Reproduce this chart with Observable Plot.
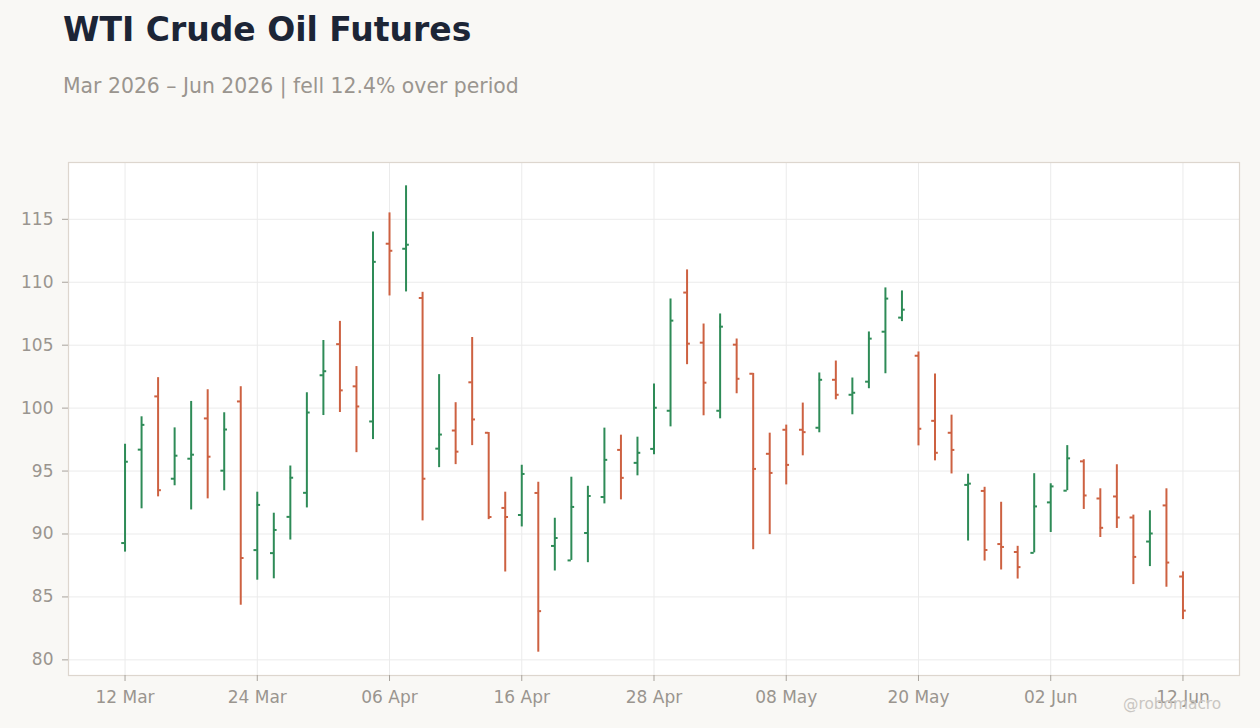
<!DOCTYPE html>
<html>
<head>
<meta charset="utf-8">
<script src="https://cdn.jsdelivr.net/npm/d3@7"></script>
<script src="https://cdn.jsdelivr.net/npm/@observablehq/plot@0.6"></script>
<style>
  html, body { margin: 0; padding: 0; background: #f9f8f5; width: 1260px; height: 728px; overflow: hidden; font-family: "DejaVu Sans", sans-serif; }
  #title { position: absolute; left: 63px; top: 13px; font-size: 33px; line-height: 33px; font-weight: bold; color: #1c2536; white-space: nowrap; }
  #subtitle { position: absolute; left: 63px; top: 76px; font-size: 20.4px; line-height: 20px; color: #9a958f; white-space: nowrap; }
  #chart { position: absolute; left: 0; top: 140px; }
  #credit { position: absolute; left: 1123px; top: 696px; font-size: 15.4px; line-height: 16px; color: #c9c6c2; white-space: nowrap; }
</style>
</head>
<body>
<div id="title">WTI Crude Oil Futures</div>
<div id="subtitle">Mar 2026 – Jun 2026 | fell 12.4% over period</div>
<div id="chart"></div>
<div id="credit">@robomacro</div>
<script>
// Trading dates (business days, Good Friday and Memorial Day closed)
const dates = [
  "2026-03-12","2026-03-13","2026-03-16","2026-03-17","2026-03-18","2026-03-19","2026-03-20","2026-03-23",
  "2026-03-24","2026-03-25","2026-03-26","2026-03-27","2026-03-30","2026-03-31","2026-04-01","2026-04-02",
  "2026-04-06","2026-04-07","2026-04-08","2026-04-09","2026-04-10","2026-04-13","2026-04-14","2026-04-15",
  "2026-04-16","2026-04-17","2026-04-20","2026-04-21","2026-04-22","2026-04-23","2026-04-24","2026-04-27",
  "2026-04-28","2026-04-29","2026-04-30","2026-05-01","2026-05-04","2026-05-05","2026-05-06","2026-05-07",
  "2026-05-08","2026-05-11","2026-05-12","2026-05-13","2026-05-14","2026-05-15","2026-05-18","2026-05-19",
  "2026-05-20","2026-05-21","2026-05-22","2026-05-26","2026-05-27","2026-05-28","2026-05-29","2026-06-01",
  "2026-06-02","2026-06-03","2026-06-04","2026-06-05","2026-06-08","2026-06-09","2026-06-10","2026-06-11",
  "2026-06-12"
];
const open = [
  89.28, 96.70, 100.93, 94.39, 95.98, 99.18, 95.03, 100.53,
  88.72, 88.48, 91.36, 93.27, 102.61, 105.08, 101.73, 98.94,
  113.06, 112.66, 108.75, 96.78, 98.22, 102.05, 98.04, 92.07,
  91.51, 93.26, 89.05, 87.90, 90.08, 92.94, 96.68, 95.65,
  96.76, 99.79, 109.18, 105.20, 99.79, 105.04, 102.73, 96.37,
  98.28, 98.28, 98.44, 102.25, 101.06, 102.10, 106.07, 107.19,
  104.16, 98.99, 98.04, 93.90, 93.42, 89.20, 88.57, 88.50,
  92.51, 93.44, 95.77, 92.82, 92.98, 91.31, 89.40, 92.27,
  86.62
];
const high = [
  97.13, 99.31, 102.42, 98.43, 100.53, 101.46, 99.63, 101.70,
  93.32, 91.65, 95.40, 101.22, 105.37, 106.89, 103.30, 113.99,
  115.51, 117.66, 109.20, 102.66, 100.43, 105.61, 98.06, 93.32,
  95.46, 94.11, 91.25, 94.51, 93.79, 98.41, 97.85, 97.69,
  101.91, 108.67, 110.98, 106.68, 107.48, 105.49, 102.76, 98.01,
  98.65, 100.40, 102.79, 103.74, 102.39, 106.05, 109.55, 109.31,
  104.46, 102.71, 99.44, 94.75, 93.71, 92.52, 89.02, 94.79,
  93.99, 97.02, 95.90, 93.59, 95.50, 91.50, 91.84, 93.59,
  86.99
];
const low = [
  88.56, 92.00, 92.95, 93.83, 91.91, 92.79, 93.43, 84.34,
  86.33, 86.44, 89.52, 92.07, 99.41, 99.65, 96.46, 97.50,
  108.91, 109.23, 91.04, 95.27, 95.51, 97.02, 91.14, 86.98,
  90.56, 80.61, 87.06, 87.90, 87.72, 92.39, 92.71, 94.62,
  96.29, 98.51, 103.45, 99.39, 99.15, 101.14, 88.75, 89.95,
  93.90, 96.21, 98.04, 100.66, 99.47, 101.54, 102.73, 106.87,
  97.00, 95.81, 94.77, 89.44, 87.85, 87.14, 86.42, 88.50,
  90.12, 93.44, 91.95, 89.72, 90.44, 85.98, 87.41, 85.77,
  83.20
];
const close = [
  95.74, 98.67, 93.48, 96.22, 96.30, 96.14, 98.30, 88.09,
  92.31, 90.32, 94.47, 99.65, 102.93, 101.41, 100.13, 111.62,
  112.50, 112.98, 94.39, 97.90, 96.54, 99.10, 91.35, 91.35,
  94.77, 83.87, 89.68, 92.15, 93.02, 95.89, 94.46, 96.45,
  100.03, 106.95, 105.12, 102.02, 106.47, 102.33, 95.17, 94.85,
  95.49, 98.09, 102.25, 101.06, 101.22, 105.52, 108.70, 107.82,
  98.36, 96.45, 96.68, 94.00, 88.73, 88.97, 87.37, 92.19,
  93.78, 96.01, 93.06, 90.49, 91.31, 88.18, 90.04, 87.73,
  83.91
];
const xTickDates = ["2026-03-12","2026-03-24","2026-04-06","2026-04-16","2026-04-28","2026-05-08","2026-05-20","2026-06-02","2026-06-12"];
const yTickValues = [80, 85, 90, 95, 100, 105, 110, 115];

const upColor = "#2e8b57";
const downColor = "#cd6141";
const tickHalf = 0.2; // open/close tick length in bar steps

const rows = dates.map((d, i) => ({
  i, date: d, open: open[i], high: high[i], low: low[i], close: close[i],
  up: close[i] >= open[i]
}));

const parse = d3.utcParse("%Y-%m-%d");
const fmt = d3.utcFormat("%d %b");
const xTicks = xTickDates.map(d => dates.indexOf(d));

const lo = d3.min(low), hi = d3.max(high);
const yPad = (hi - lo) * 0.05;
const xLo = -tickHalf, xHi = dates.length - 1 + tickHalf;
const xPad = (xHi - xLo) * 0.05;

const axisColor = "#9a958f";
const color = d => d.up ? upColor : downColor;

const chart = Plot.plot({
  width: 1260,
  height: 588,
  marginTop: 22,
  marginBottom: 53,
  marginLeft: 68,
  marginRight: 21,
  style: { background: "transparent", fontFamily: "DejaVu Sans, sans-serif", fontSize: "17px", color: axisColor },
  x: { type: "linear", domain: [xLo - xPad, xHi + xPad] },
  y: { domain: [lo - yPad, hi + yPad] },
  marks: [
    Plot.frame({ fill: "white", stroke: null }),
    Plot.gridY(yTickValues, { stroke: "#ebebeb", strokeOpacity: 1, strokeWidth: 1 }),
    Plot.gridX(xTicks, { stroke: "#ebebeb", strokeOpacity: 1, strokeWidth: 1 }),
    Plot.ruleX(rows, { x: "i", y1: "low", y2: "high", stroke: color, strokeWidth: 2 }),
    Plot.ruleY(rows, { y: "open", x1: d => d.i - tickHalf, x2: "i", stroke: color, strokeWidth: 2 }),
    Plot.ruleY(rows, { y: "close", x1: "i", x2: d => d.i + tickHalf, stroke: color, strokeWidth: 2 }),
    Plot.frame({ stroke: "#ddd6ce", strokeWidth: 1.2 }),
    Plot.axisY(yTickValues, { tickSize: 6, tickPadding: 9, stroke: "#a8a39d", fill: axisColor, label: null, fontSize: 17 }),
    Plot.axisX(xTicks, { tickSize: 6, tickPadding: 9, stroke: "#a8a39d", fill: axisColor, label: null, fontSize: 17,
      tickFormat: i => fmt(parse(dates[i])) })
  ]
});
document.getElementById("chart").appendChild(chart);
</script>
</body>
</html>
